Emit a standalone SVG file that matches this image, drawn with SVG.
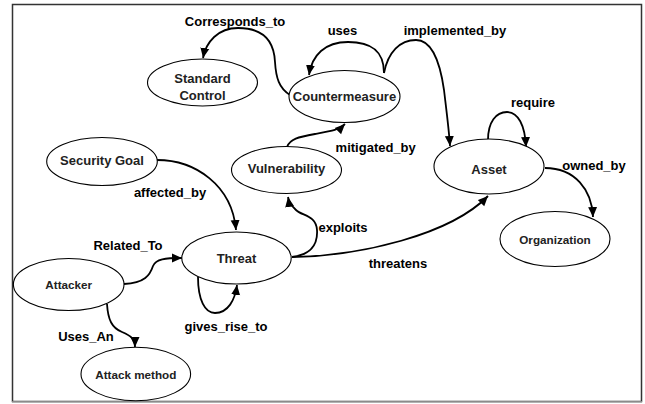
<svg xmlns="http://www.w3.org/2000/svg" width="645" height="404" viewBox="0 0 645 404">
<defs>
<marker id="arr" markerUnits="userSpaceOnUse" markerWidth="12" markerHeight="10" refX="10" refY="5" orient="auto">
<path d="M0,0.5 L10,5 L0,9.5 Z" fill="#000"/>
</marker>
<style>
.node ellipse{fill:#fff;stroke:#000;stroke-width:1.1}
.nt{font-family:"Liberation Sans",Arial,sans-serif;font-weight:bold;font-size:13px;text-anchor:middle;fill:#222}
.ns{font-size:11.7px}
.lbl{font-family:"Liberation Sans",Arial,sans-serif;font-weight:bold;font-size:13px;text-anchor:middle;fill:#000}
#edges path{fill:none;stroke:#000;stroke-width:1.8;marker-end:url(#arr)}
</style>
</defs>
<rect x="0" y="0" width="645" height="404" fill="#fff"/>
<rect x="12.5" y="4.5" width="629" height="397" fill="none" stroke="#333" stroke-width="1.5"/>
<line x1="12" y1="402" x2="642" y2="402" stroke="#aaa" stroke-width="1.5"/>

<g id="edges">
<path d="M290,95 C279,88 276,78 275,62 C274,40 262,28 238,28 C218,28 206,42 203,58"/>
<path d="M384,73 C384,50 370,42 348,42 C325,42 312,55 309,75"/>
<path d="M384,73 C388,52 400,40 416,40 C432,40 440,62 444,90 C447,115 449,130 450,146"/>
<path d="M287,147 C290,139 298,137 315,134 C332,131 339,130 345,124"/>
<path d="M157,160 C195,160 232,185 236,230"/>
<path d="M292,257 C310,255 318,245 317,230 C316,215 302,216 296,210 C292,206 289,203 288,197"/>
<path d="M292,257 C360,256 450,235 488,196"/>
<path d="M488,140 C488,122 496,112 507,112 C518,112 525,125 526,147"/>
<path d="M545,168 C575,168 592,190 593,217"/>
<path d="M124,284 C145,283 150,275 153,266 C156,259 165,258 182,258"/>
<path d="M198,277 C198,300 205,313 215,313 C228,313 235,300 237,285"/>
<path d="M107,304 C108,320 112,328 122,332 C132,336 135,340 135,347"/>
</g>

<g id="standard-control" class="node">
<ellipse cx="202.5" cy="82.5" rx="55" ry="23.5"/>
<text class="nt" x="202.5" y="82.5">Standard</text>
<text class="nt" x="202.5" y="100">Control</text>
</g>
<g id="countermeasure" class="node">
<ellipse cx="344.5" cy="96.5" rx="55.5" ry="26"/>
<text class="nt" x="344.5" y="100.5">Countermeasure</text>
</g>
<g id="vulnerability" class="node">
<ellipse cx="286.5" cy="170" rx="55" ry="23.5"/>
<text class="nt" x="286.5" y="173">Vulnerability</text>
</g>
<g id="security-goal" class="node">
<ellipse cx="102" cy="161.5" rx="55.3" ry="24"/>
<text class="nt" x="102" y="164.5">Security Goal</text>
</g>
<g id="asset" class="node">
<ellipse cx="489" cy="166.5" rx="55" ry="27.5"/>
<text class="nt" x="489" y="173.5">Asset</text>
</g>
<g id="organization" class="node">
<ellipse cx="555" cy="239" rx="55" ry="27.5"/>
<text class="nt ns" x="555" y="244">Organization</text>
</g>
<g id="threat" class="node">
<ellipse cx="236.5" cy="258" rx="54.7" ry="26"/>
<text class="nt" x="236.5" y="263">Threat</text>
</g>
<g id="attacker" class="node">
<ellipse cx="68.7" cy="284.5" rx="55.3" ry="26"/>
<text class="nt ns" x="68.7" y="289">Attacker</text>
</g>
<g id="attack-method" class="node">
<ellipse cx="135.8" cy="374" rx="54.8" ry="26.7"/>
<text class="nt ns" x="135.8" y="378.5">Attack method</text>
</g>

<g id="labels">
<text class="lbl" x="235" y="25.5">Corresponds_to</text>
<text class="lbl" x="342.5" y="35">uses</text>
<text class="lbl" x="455" y="35">implemented_by</text>
<text class="lbl" x="533" y="106.5">require</text>
<text class="lbl" x="594" y="170">owned_by</text>
<text class="lbl" x="375.7" y="151.5">mitigated_by</text>
<text class="lbl" x="170" y="197">affected_by</text>
<text class="lbl" x="343" y="232">exploits</text>
<text class="lbl" x="398" y="268">threatens</text>
<text class="lbl" x="128" y="249.5">Related_To</text>
<text class="lbl" x="226" y="330.5">gives_rise_to</text>
<text class="lbl" x="86" y="340.5">Uses_An</text>
</g>
</svg>
